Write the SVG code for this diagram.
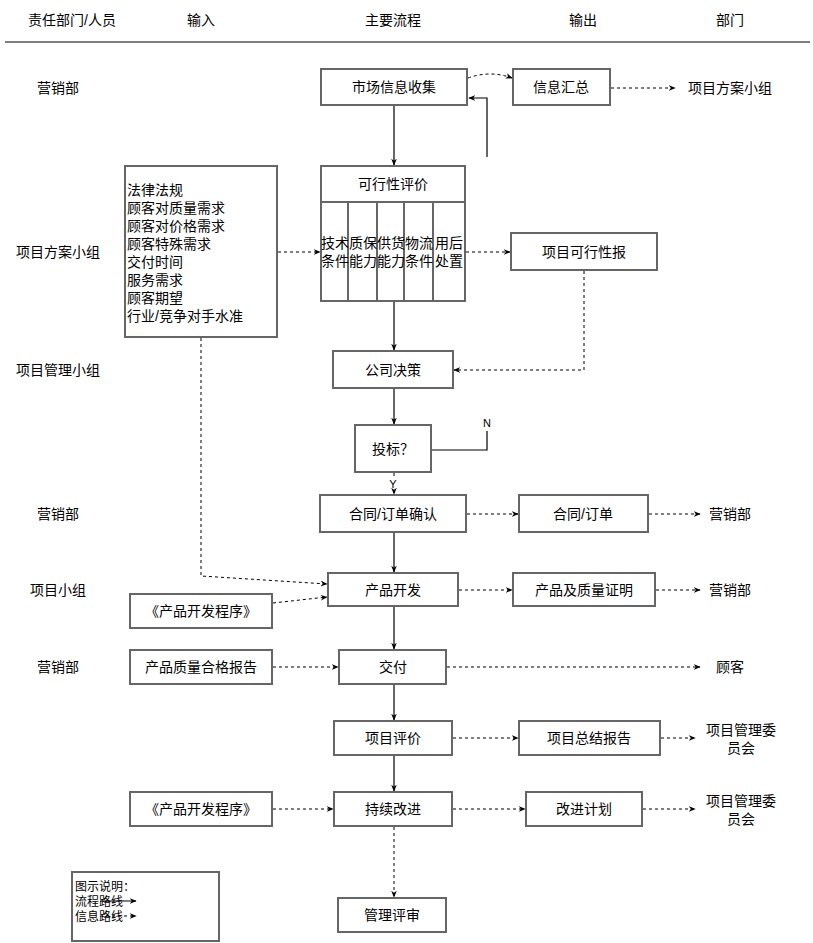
<svg xmlns="http://www.w3.org/2000/svg" width="813" height="943" viewBox="0 0 813 943">
<defs>
<marker id="ah" viewBox="0 0 10 10" refX="9" refY="5" markerWidth="7" markerHeight="7" orient="auto" markerUnits="userSpaceOnUse"><path d="M0,1 L10,5 L0,9 L3,5 Z" fill="#000"/></marker>
<style>
text{font-family:"Liberation Sans","Noto Sans CJK SC",sans-serif;font-size:14px;fill:#000}
.c{text-anchor:middle}
.b{fill:#fff;stroke:#666;stroke-width:2}
.s{fill:none;stroke:#000;stroke-width:1.2}
.d{fill:none;stroke:#000;stroke-width:1;stroke-dasharray:3,3}
.sm{font-size:12px}
</style>
</defs>
<rect width="813" height="943" fill="#fff"/>
<g id="header">
<text class="c" x="72" y="25">责任部门/人员</text>
<text class="c" x="201" y="25">输入</text>
<text class="c" x="393" y="25">主要流程</text>
<text class="c" x="583" y="25">输出</text>
<text class="c" x="730" y="25">部门</text>
<line x1="5" y1="42" x2="810" y2="42" stroke="#000" stroke-width="1.2"/>
</g>
<g id="lanes">
<text class="c" x="58" y="93">营销部</text>
<text class="c" x="58" y="257">项目方案小组</text>
<text class="c" x="58" y="375">项目管理小组</text>
<text class="c" x="58" y="519">营销部</text>
<text class="c" x="58" y="595">项目小组</text>
<text class="c" x="58" y="672">营销部</text>
</g>
<g id="connectors">
<path class="s" d="M394,105 V165" marker-end="url(#ah)"/>
<path class="d" d="M468,78 Q490,70 512,78" marker-end="url(#ah)"/>
<path class="s" d="M487,157 V98 H469" marker-end="url(#ah)"/>
<path class="d" d="M611,88 H675" marker-end="url(#ah)"/>
<path class="d" d="M278,252 H320" marker-end="url(#ah)"/>
<path class="d" d="M466,252 H510" marker-end="url(#ah)"/>
<path class="d" d="M584,271 V370 H454" marker-end="url(#ah)"/>
<path class="s" d="M394,302 V350" marker-end="url(#ah)"/>
<path class="s" d="M394,389 V424" marker-end="url(#ah)"/>
<path class="s" d="M432,450 H487 V431"/>
<path class="d" d="M394,473 V478 M394,490 V494" marker-end="url(#ah)"/>
<path class="d" d="M467,514 H518" marker-end="url(#ah)"/>
<path class="d" d="M649,514 H700" marker-end="url(#ah)"/>
<path class="s" d="M394,533 V572" marker-end="url(#ah)"/>
<path class="d" d="M201,338 V576 L327,584" marker-end="url(#ah)"/>
<path class="d" d="M273,603 L327,597" marker-end="url(#ah)"/>
<path class="d" d="M459,590 H512" marker-end="url(#ah)"/>
<path class="d" d="M656,590 H700" marker-end="url(#ah)"/>
<path class="s" d="M394,607 V649" marker-end="url(#ah)"/>
<path class="d" d="M273,667 H338" marker-end="url(#ah)"/>
<path class="d" d="M447,667 H700" marker-end="url(#ah)"/>
<path class="s" d="M394,685 V720" marker-end="url(#ah)"/>
<path class="d" d="M453,738 H518" marker-end="url(#ah)"/>
<path class="d" d="M661,738 H695" marker-end="url(#ah)"/>
<path class="s" d="M394,756 V791" marker-end="url(#ah)"/>
<path class="d" d="M273,809 H333" marker-end="url(#ah)"/>
<path class="d" d="M453,809 H525" marker-end="url(#ah)"/>
<path class="d" d="M643,809 H695" marker-end="url(#ah)"/>
<path class="d" d="M394,827 V897" marker-end="url(#ah)"/>
</g>
<g id="n-market"><rect class="b" x="321" y="69" width="146" height="36"/><text class="c" x="394" y="92">市场信息收集</text></g>
<g id="n-info"><rect class="b" x="513" y="69" width="97" height="36"/><text class="c" x="561" y="92">信息汇总</text></g>
<g id="t-info-dept"><text class="c" x="730" y="93">项目方案小组</text></g>
<g id="n-inputs"><rect class="b" x="125" y="166" width="152" height="171"/>
<text x="127" y="195">法律法规</text>
<text x="127" y="213">顾客对质量需求</text>
<text x="127" y="231">顾客对价格需求</text>
<text x="127" y="249">顾客特殊需求</text>
<text x="127" y="267">交付时间</text>
<text x="127" y="285">服务需求</text>
<text x="127" y="303">顾客期望</text>
<text x="127" y="321">行业/竞争对手水准</text>
</g>
<g id="n-feas"><rect class="b" x="321" y="166" width="144" height="135"/>
<line x1="321" y1="202" x2="465" y2="202" stroke="#666" stroke-width="2"/>
<line x1="348" y1="202" x2="348" y2="301" stroke="#666" stroke-width="2"/>
<line x1="377" y1="202" x2="377" y2="301" stroke="#666" stroke-width="2"/>
<line x1="404" y1="202" x2="404" y2="301" stroke="#666" stroke-width="2"/>
<line x1="433" y1="202" x2="433" y2="301" stroke="#666" stroke-width="2"/>
<text class="c" x="393" y="189">可行性评价</text>
<text class="c" x="335" y="248">技术</text><text class="c" x="335" y="266">条件</text>
<text class="c" x="363" y="248">质保</text><text class="c" x="363" y="266">能力</text>
<text class="c" x="391" y="248">供货</text><text class="c" x="391" y="266">能力</text>
<text class="c" x="419" y="248">物流</text><text class="c" x="419" y="266">条件</text>
<text class="c" x="449" y="248">用后</text><text class="c" x="449" y="266">处置</text>
</g>
<g id="n-report"><rect class="b" x="511" y="233" width="146" height="37"/><text class="c" x="584" y="257">项目可行性报</text></g>
<g id="n-decision"><rect class="b" x="333" y="351" width="120" height="37"/><text class="c" x="393" y="375">公司决策</text></g>
<g id="n-bid"><rect class="b" x="355" y="425" width="76" height="47"/><text class="c" x="393" y="454">投标？</text>
<text class="c sm" x="487" y="427" style="font-size:11px">N</text>
<text class="c sm" x="393" y="488" style="font-size:11px">Y</text></g>
<g id="n-contract"><rect class="b" x="320" y="495" width="146" height="37"/><text class="c" x="393" y="519">合同/订单确认</text></g>
<g id="n-order"><rect class="b" x="519" y="495" width="129" height="37"/><text class="c" x="583" y="519">合同/订单</text></g>
<g id="t-order-dept"><text class="c" x="730" y="519">营销部</text></g>
<g id="n-dev"><rect class="b" x="328" y="573" width="130" height="33"/><text class="c" x="393" y="595">产品开发</text></g>
<g id="n-devproc1"><rect class="b" x="130" y="594" width="142" height="34"/><text class="c" x="201" y="616">《产品开发程序》</text></g>
<g id="n-cert"><rect class="b" x="513" y="573" width="142" height="33"/><text class="c" x="584" y="595">产品及质量证明</text></g>
<g id="t-cert-dept"><text class="c" x="730" y="595">营销部</text></g>
<g id="n-deliver"><rect class="b" x="339" y="650" width="107" height="34"/><text class="c" x="393" y="672">交付</text></g>
<g id="n-qreport"><rect class="b" x="130" y="650" width="142" height="34"/><text class="c" x="201" y="672">产品质量合格报告</text></g>
<g id="t-customer"><text class="c" x="730" y="672">顾客</text></g>
<g id="n-eval"><rect class="b" x="334" y="721" width="118" height="34"/><text class="c" x="393" y="743">项目评价</text></g>
<g id="n-summary"><rect class="b" x="519" y="721" width="141" height="34"/><text class="c" x="589" y="743">项目总结报告</text></g>
<g id="t-summary-dept"><text class="c" x="741" y="735">项目管理委</text><text class="c" x="741" y="753">员会</text></g>
<g id="n-improve"><rect class="b" x="334" y="792" width="118" height="34"/><text class="c" x="393" y="814">持续改进</text></g>
<g id="n-devproc2"><rect class="b" x="130" y="792" width="142" height="34"/><text class="c" x="201" y="814">《产品开发程序》</text></g>
<g id="n-plan"><rect class="b" x="526" y="792" width="116" height="34"/><text class="c" x="584" y="814">改进计划</text></g>
<g id="t-plan-dept"><text class="c" x="741" y="806">项目管理委</text><text class="c" x="741" y="824">员会</text></g>
<g id="n-review"><rect class="b" x="338" y="898" width="108" height="34"/><text class="c" x="392" y="920">管理评审</text></g>
<g id="legend"><rect class="b" x="72" y="872" width="147" height="69"/>
<text class="sm" x="75" y="891">图示说明：</text>
<text class="sm" x="75" y="906">流程路线</text>
<text class="sm" x="75" y="921">信息路线</text>
<path class="s" d="M100,901 H136" marker-end="url(#ah)" style="stroke-width:1"/>
<path class="d" d="M100,916 H136" marker-end="url(#ah)"/>
</g>
</svg>
